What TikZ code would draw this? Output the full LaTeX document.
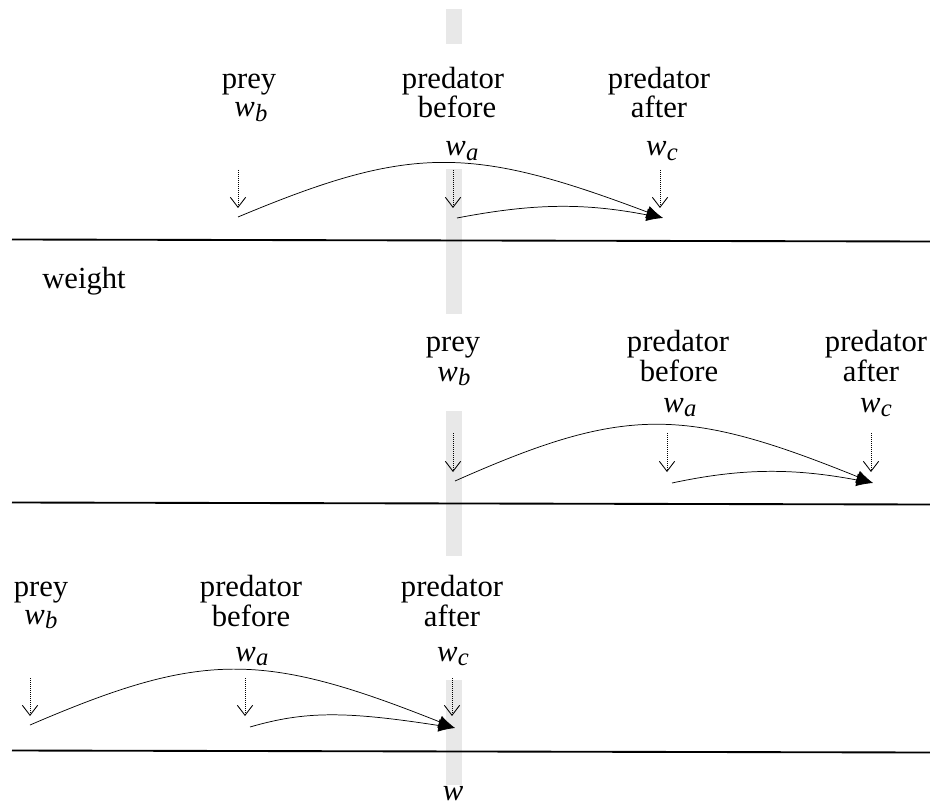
\documentclass[tikz,border=0pt]{standalone}
\usepackage{fontspec}
\setmainfont{Liberation Serif}
\usetikzlibrary{arrows.meta}
\definecolor{barg}{HTML}{E8E8E8}
\newcommand{\wsub}[1]{\textit{w}\kern0.2pt\raisebox{-3.3pt}{\fontsize{18.5}{19}\selectfont\textit{#1}}}
\begin{document}
\begin{tikzpicture}[x=0.75pt,y=-0.75pt,
  lbl/.style={font=\fontsize{23}{27}\selectfont, inner sep=0pt, anchor=base},
  bar/.style={fill=barg, draw=none},
  axisline/.style={line width=1.4pt, black},
  drop/.style={line width=0.65pt, dash pattern=on 0.75pt off 0.75pt, -{Straight Barb[length=7.5pt,width=11.5pt,line width=0.65pt]}},
  move/.style={line width=0.55pt, -{Latex[length=12.5pt,width=9.5pt]}}]
\useasboundingbox (0,0) rectangle (930,805);

% grey vertical bar (behind everything)
\path[bar] (446,9) rectangle (462,44);
\path[bar] (446,169) rectangle (462,314);
\path[bar] (446,411) rectangle (462,556);
\path[bar] (446,680) rectangle (462,785);

% ---------- panel 1 ----------
\coordinate (l1a) at (12,239.5); \coordinate (l1b) at (930,241.5);
\draw[axisline] (l1a) -- (l1b);
\node[lbl] (p1prey) at (249,89) {prey};
\node[lbl] (p1wb) at (251,117) {\wsub{b}};
\node[lbl] (p1pred) at (453,89) {predator};
\node[lbl] (p1bef) at (457,118) {before};
\node[lbl] (p1wa) at (462,156) {\wsub{a}};
\node[lbl] (p1pred2) at (659,89) {predator};
\node[lbl] (p1aft) at (659,118) {after};
\node[lbl] (p1wc) at (662,156) {\wsub{c}};
\coordinate (p1d1t) at (238,170); \coordinate (p1d1b) at (238,208);
\coordinate (p1d2t) at (453,170); \coordinate (p1d2b) at (453,208);
\coordinate (p1d3t) at (660,170); \coordinate (p1d3b) at (660,208);
\draw[drop] (p1d1t) -- (p1d1b);
\draw[drop] (p1d2t) -- (p1d2b);
\draw[drop] (p1d3t) -- (p1d3b);
\coordinate (p1s1) at (238,217); \coordinate (p1s2) at (457,218); \coordinate (p1e) at (663,218);
\draw[move] (p1s1) .. controls (410,145) and (470,145) .. (p1e);
\draw[move] (p1s2) .. controls (535,203) and (585,203) .. (p1e);

\node[lbl] (weight) at (84,288) {weight};

% ---------- panel 2 ----------
\coordinate (l2a) at (12,502.5); \coordinate (l2b) at (930,504.5);
\draw[axisline] (l2a) -- (l2b);
\node[lbl] (p2prey) at (453,351) {prey};
\node[lbl] (p2wb) at (454,381) {\wsub{b}};
\node[lbl] (p2pred) at (678,351) {predator};
\node[lbl] (p2bef) at (679,381) {before};
\node[lbl] (p2wa) at (680,412) {\wsub{a}};
\node[lbl] (p2pred2) at (876,351) {predator};
\node[lbl] (p2aft) at (871,381) {after};
\node[lbl] (p2wc) at (876,412) {\wsub{c}};
\coordinate (p2d1t) at (453,433); \coordinate (p2d1b) at (453,472);
\coordinate (p2d2t) at (667,433); \coordinate (p2d2b) at (667,472);
\coordinate (p2d3t) at (871,433); \coordinate (p2d3b) at (871,472);
\draw[drop] (p2d1t) -- (p2d1b);
\draw[drop] (p2d2t) -- (p2d2b);
\draw[drop] (p2d3t) -- (p2d3b);
\coordinate (p2s1) at (455,481); \coordinate (p2s2) at (672,483); \coordinate (p2e) at (873,483);
\draw[move] (p2s1) .. controls (624,406) and (683,406) .. (p2e);
\draw[move] (p2s2) .. controls (742,468) and (793,468) .. (p2e);

% ---------- panel 3 ----------
\coordinate (l3a) at (12,750.5); \coordinate (l3b) at (930,752.5);
\draw[axisline] (l3a) -- (l3b);
\node[lbl] (p3prey) at (41,596) {prey};
\node[lbl] (p3wb) at (41,624) {\wsub{b}};
\node[lbl] (p3pred) at (251,596) {predator};
\node[lbl] (p3bef) at (251,626) {before};
\node[lbl] (p3wa) at (252,661) {\wsub{a}};
\node[lbl] (p3pred2) at (452,596) {predator};
\node[lbl] (p3aft) at (452,626) {after};
\node[lbl] (p3wc) at (453,661) {\wsub{c}};
\coordinate (p3d1t) at (30,678); \coordinate (p3d1b) at (30,716);
\coordinate (p3d2t) at (245,678); \coordinate (p3d2b) at (245,716);
\coordinate (p3d3t) at (452,678); \coordinate (p3d3b) at (452,716);
\draw[drop] (p3d1t) -- (p3d1b);
\draw[drop] (p3d2t) -- (p3d2b);
\draw[drop] (p3d3t) -- (p3d3b);
\coordinate (p3s1) at (30,725); \coordinate (p3s2) at (250,727); \coordinate (p3e) at (455,728);
\draw[move] (p3s1) .. controls (202,651) and (262,651) .. (p3e);
\draw[move] (p3s2) .. controls (305,711) and (345,711) .. (p3e);

\node[lbl] (waxis) at (453,800) {\textit{w}};
\end{tikzpicture}
\end{document}
